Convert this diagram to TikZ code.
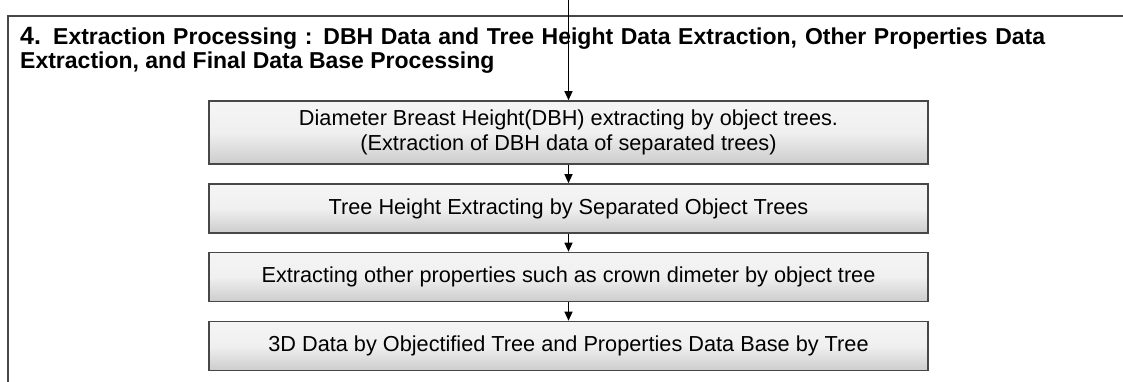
\documentclass[tikz,border=0pt]{standalone}
\usepackage{fontspec}
\setmainfont{Liberation Sans}
\usetikzlibrary{arrows.meta}
\begin{document}
\begin{tikzpicture}[x=1pt,y=-1pt,
  frame/.style={draw=black!72,line width=2pt},
  procbox/.style={draw=black!72,line width=1.6pt,minimum width=719pt,inner sep=0pt,
    top color=black!4,bottom color=black!20,middle color=black!6,
    align=center,font=\fontsize{21.7}{25}\selectfont},
  flow/.style={draw=black,line width=1.3pt,-{Triangle[length=9pt,width=8pt]}}]
\useasboundingbox (0,0) rectangle (1123,382);
\draw[frame] (1123,16) -- (8,16) -- (8,382);
\node[anchor=north west,inner sep=0pt,align=left,font=\bfseries\fontsize{23}{24}\selectfont] (title) at (20,27)
  {\makebox[1025pt][s]{{\fontsize{25}{24}\selectfont 4.} Extraction Processing : DBH Data and Tree Height Data Extraction, Other Properties Data}\\
   Extraction, and Final Data Base Processing};
\node[procbox,minimum height=63pt] (b1) at (568.5,132.5)
  {Diameter Breast Height(DBH) extracting by object trees.\\(Extraction of DBH data of separated trees)};
\node[procbox,minimum height=49pt] (b2) at (568.5,208.5) {Tree Height Extracting by Separated Object Trees};
\node[procbox,minimum height=49pt] (b3) at (568.5,277) {Extracting other properties such as crown dimeter by object tree};
\node[procbox,minimum height=49pt] (b4) at (568.5,346) {3D Data by Objectified Tree and Properties Data Base by Tree};
\coordinate (top) at (568.5,0);
\draw[flow] (top) -- (b1.north);
\draw[flow] (b1) -- (b2);
\draw[flow] (b2) -- (b3);
\draw[flow] (b3) -- (b4);
\end{tikzpicture}
\end{document}
